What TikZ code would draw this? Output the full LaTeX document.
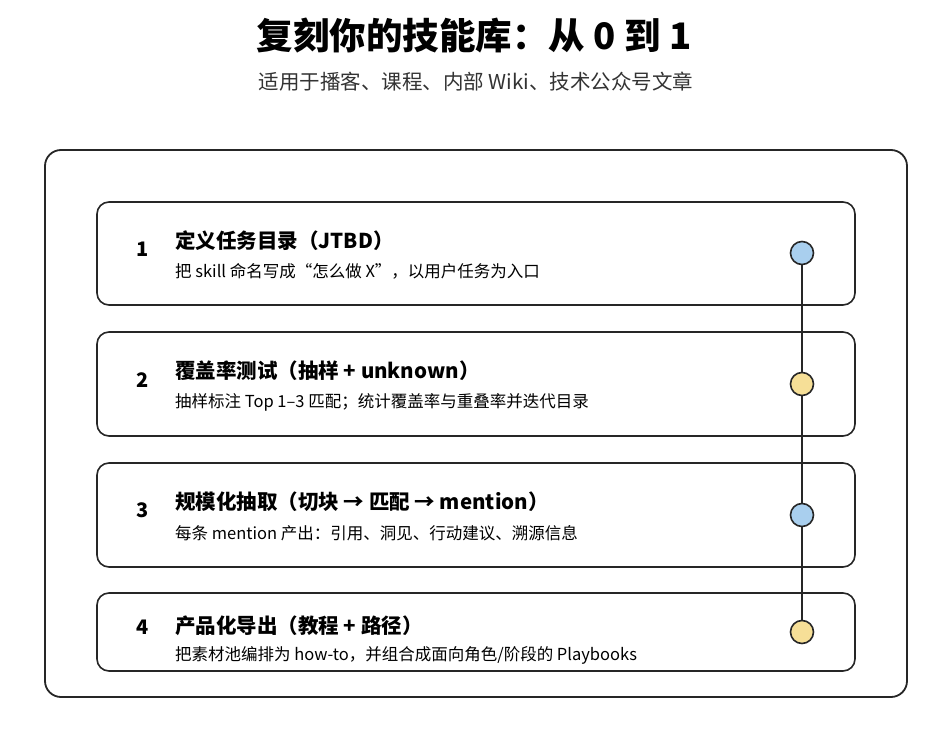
\documentclass[tikz,border=0pt]{standalone}
\usepackage{fontspec}
\setmainfont{Noto Sans CJK SC}
\definecolor{cblue}{HTML}{A9CFEE}
\definecolor{cyel}{HTML}{F6DF97}
\begin{document}
\begin{tikzpicture}[x=1pt,y=-1pt,
  card/.style={draw=black!85,line width=1.6pt,rounded corners=12pt,fill=white},
  num/.style={font=\fontsize{20}{22}\selectfont\bfseries},
  ttl/.style={anchor=west,font=\fontsize{20.5}{24}\selectfont\bfseries,inner sep=0},
  sub/.style={anchor=west,font=\fontsize{16.5}{19}\selectfont,inner sep=0},
  dot/.style={circle,draw=black!85,line width=1.6pt,minimum size=23pt,inner sep=0}]
\useasboundingbox[fill=white] (0,0) rectangle (942,738);
\node[font=\fontsize{36.5}{40}\selectfont\bfseries] (title) at (474,36) {复刻你的技能库：从 0 到 1};
\node[font=\fontsize{20.5}{23}\selectfont,text=black!80] (subt) at (476,82) {适用于播客、课程、内部 Wiki、技术公众号文章};
\draw[line width=1.8pt,rounded corners=16pt,draw=black!85] (45,150) rectangle (907,697);
\draw[card] (97,202) rectangle (855,305);
\draw[card] (97,332) rectangle (855,436);
\draw[card] (97,463) rectangle (855,567);
\draw[card] (97,593) rectangle (855,671);
\node[num] (n1) at (143,249) {1};
\node[num] (n2) at (143,380) {2};
\node[num] (n3) at (143,510) {3};
\node[num] (n4) at (143,627) {4};
\node[ttl] (t1) at (175,241) {定义任务目录（JTBD）};
\node[sub] (s1) at (175,271) {把 skill 命名写成“怎么做 X”，以用户任务为入口};
\node[ttl] (t2) at (175,371) {覆盖率测试（抽样 + unknown）};
\node[sub] (s2) at (175,402) {抽样标注 Top 1–3 匹配；统计覆盖率与重叠率并迭代目录};
\node[ttl] (t3) at (175,502) {规模化抽取（切块 → 匹配 → mention）};
\node[sub] (s3) at (175,533) {每条 mention 产出：引用、洞见、行动建议、溯源信息};
\node[ttl] (t4) at (175,626) {产品化导出（教程 + 路径）};
\node[sub] (s4) at (175,655) {把素材池编排为 how-to，并组合成面向角色/阶段的 Playbooks};
\coordinate (c1) at (802,253);
\coordinate (c4) at (802,632);
\draw[line width=1.6pt,draw=black!85] (c1) -- (c4);
\node[dot,fill=cblue] (d1) at (802,253) {};
\node[dot,fill=cyel] (d2) at (802,384) {};
\node[dot,fill=cblue] (d3) at (802,515) {};
\node[dot,fill=cyel] (d4) at (802,632) {};
\end{tikzpicture}
\end{document}
